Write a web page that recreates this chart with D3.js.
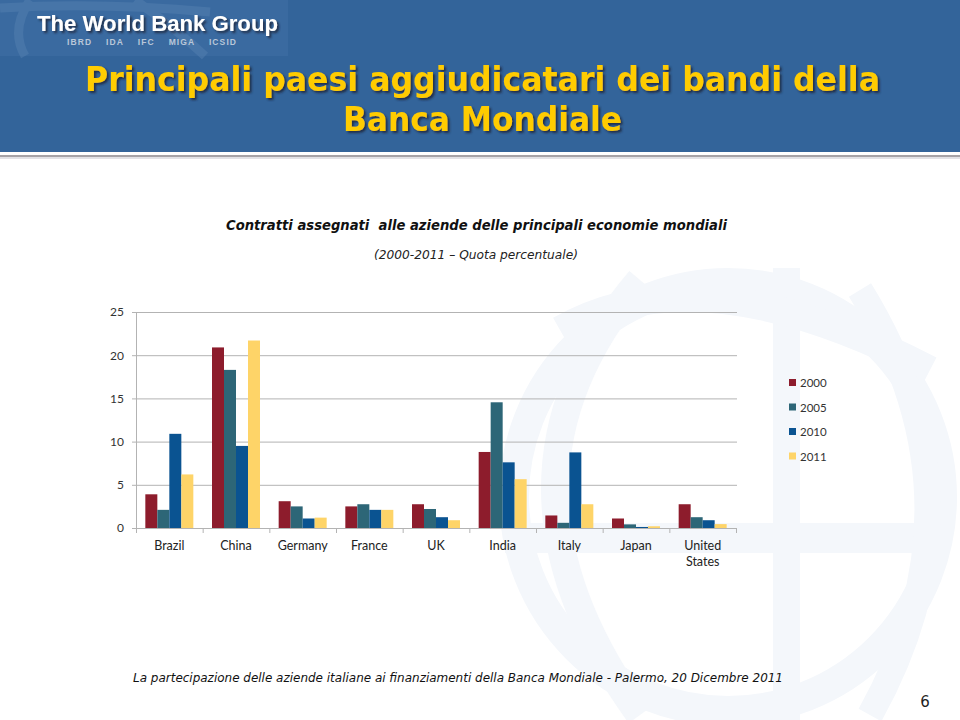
<!DOCTYPE html>
<html><head><meta charset="utf-8">
<script src="https://cdn.jsdelivr.net/npm/d3@7/dist/d3.min.js"></script>
<style>
html,body{margin:0;padding:0;background:#fff;}
svg{display:block;}
</style></head>
<body>
<svg id="c" width="960" height="720"></svg>
<script>
const categories = ["Brazil","China","Germany","France","UK","India","Italy","Japan","United States"];
const seriesNames = ["2000","2005","2010","2011"];
const values2000 = [3.9, 20.9, 3.1, 2.5, 2.75, 8.8, 1.45, 1.1, 2.75];
const values2005 = [2.1, 18.3, 2.5, 2.75, 2.2, 14.55, 0.6, 0.42, 1.25];
const values2010 = [10.9, 9.5, 1.1, 2.1, 1.25, 7.6, 8.75, 0.12, 0.9];
const values2011 = [6.2, 21.7, 1.2, 2.1, 0.9, 5.65, 2.75, 0.2, 0.45];
const yTicks = [0, 5, 10, 15, 20, 25];
const colors = ["#8d1c2c", "#2d6677", "#0a5391", "#fed468"];

const seriesValues = [values2000, values2005, values2010, values2011];
const svg = d3.select("#c");

// ---- background watermark globe ----
const wmColor = "#f4f7fb";
const wm = svg.append("g").attr("fill","none").attr("stroke",wmColor);
wm.append("circle").attr("cx",728).attr("cy",497).attr("r",214).attr("stroke-width",30);
wm.append("rect").attr("x",505).attr("y",523).attr("width",445).attr("height",30).attr("fill",wmColor).attr("stroke","none");
wm.append("rect").attr("x",773).attr("y",268).attr("width",27).attr("height",452).attr("fill",wmColor).attr("stroke","none");
wm.append("path").attr("d","M 560 330 Q 700 250 930 370").attr("stroke-width",28);
wm.append("path").attr("d","M 640 280 Q 470 480 640 715").attr("stroke-width",28);
wm.append("path").attr("d","M 860 290 Q 990 500 870 715").attr("stroke-width",26);

// ---- header ----
svg.append("rect").attr("x",0).attr("y",0).attr("width",960).attr("height",152).attr("fill","#33649a");
svg.append("rect").attr("x",0).attr("y",0).attr("width",288).attr("height",56).attr("fill","#3a6aa0");
const lw = svg.append("g").attr("stroke","#5580b0").attr("stroke-width",9).attr("fill","none").attr("opacity",0.5);
lw.append("path").attr("d","M 30 0 Q 10 30 25 56");
lw.append("path").attr("d","M 135 0 Q 175 28 205 56");
lw.append("path").attr("d","M 0 8 Q 100 2 210 12");
svg.append("rect").attr("x",0).attr("y",152).attr("width",960).attr("height",4).attr("fill","#ffffff");
svg.append("rect").attr("x",0).attr("y",155).attr("width",960).attr("height",2).attr("fill","#a5a2a6");
svg.append("rect").attr("x",0).attr("y",157).attr("width",960).attr("height",2).attr("fill","#e2e2e6");

const defs = svg.append("defs");
const f = defs.append("filter").attr("id","sh").attr("x","-5%").attr("y","-20%").attr("width","110%").attr("height","150%");
f.append("feDropShadow").attr("dx",2).attr("dy",2).attr("stdDeviation",1.2).attr("flood-color","#1a2a40").attr("flood-opacity",0.9);

svg.append("text").attr("x",37).attr("y",31).attr("font-family","Liberation Sans, Arial, sans-serif")
  .attr("font-weight","bold").attr("font-size",22).attr("fill","#ffffff").attr("filter","url(#sh)")
  .attr("textLength",241).attr("lengthAdjust","spacingAndGlyphs").text("The World Bank Group");
svg.append("text").attr("x",67).attr("y",44.5).attr("font-family","Liberation Sans, Arial, sans-serif")
  .attr("font-weight","bold").attr("font-size",8.5).attr("fill","#b9c7d9")
  .attr("textLength",169).attr("lengthAdjust","spacing").attr("xml:space","preserve")
  .text("IBRD    IDA    IFC    MIGA    ICSID");

const titleAttrs = sel => sel.attr("font-family","DejaVu Sans, Verdana, sans-serif").attr("font-weight","bold")
  .attr("font-size",34).attr("fill","#ffcc00").attr("filter","url(#sh)").attr("lengthAdjust","spacingAndGlyphs");
svg.append("text").attr("x",85).attr("y",91).call(titleAttrs).attr("textLength",795)
  .text("Principali paesi aggiudicatari dei bandi della");
svg.append("text").attr("x",343).attr("y",131).call(titleAttrs).attr("textLength",279)
  .text("Banca Mondiale");

// ---- chart titles ----
svg.append("text").attr("x",226).attr("y",230).attr("font-family","DejaVu Sans, Verdana, sans-serif")
  .attr("font-weight","bold").attr("font-style","italic").attr("font-size",13.5).attr("fill","#111")
  .attr("textLength",501).attr("lengthAdjust","spacingAndGlyphs").attr("xml:space","preserve")
  .text("Contratti assegnati  alle aziende delle principali economie mondiali");
svg.append("text").attr("x",374).attr("y",259).attr("font-family","DejaVu Sans, Verdana, sans-serif")
  .attr("font-style","italic").attr("font-size",12).attr("fill","#222")
  .attr("textLength",204).attr("lengthAdjust","spacingAndGlyphs")
  .text("(2000-2011 \u2013 Quota percentuale)");

// ---- chart ----
const x0 = d3.scaleBand().domain(categories).range([136, 736]).padding(0);
const x1 = d3.scaleBand().domain(seriesNames).range([x0.bandwidth()*0.14, x0.bandwidth()*0.86]).padding(0);
const y = d3.scaleLinear().domain([0, 25]).range([528, 312]);

const chart = svg.append("g");
// gridlines
chart.append("g").selectAll("line").data(yTicks.filter(d=>d>0)).join("line")
  .attr("x1",136).attr("x2",737).attr("y1",d=>y(d)+0.5).attr("y2",d=>y(d)+0.5)
  .attr("stroke","#b3b3b3").attr("stroke-width",1);

// bars
const groups = chart.append("g").selectAll("g").data(categories).join("g")
  .attr("transform", d => `translate(${x0(d)},0)`);
groups.selectAll("rect").data((d,i) => seriesNames.map((s,j) => ({s, v: seriesValues[j][i], j})))
  .join("rect")
  .attr("x", d => x1(d.s)).attr("width", x1.bandwidth())
  .attr("y", d => y(d.v)).attr("height", d => y(0) - y(d.v))
  .attr("fill", d => colors[d.j]);

// y axis
const yAxis = chart.append("g").attr("transform","translate(136,0)")
  .call(d3.axisLeft(y).tickValues(yTicks).tickSize(4).tickPadding(8));
yAxis.select(".domain").attr("stroke","#b3b3b3");
yAxis.selectAll(".tick line").attr("stroke","#b3b3b3");
yAxis.selectAll(".tick text").attr("font-family","Lato, Open Sans, sans-serif").attr("font-size",12).attr("fill","#333");

// x axis
const xAxis = chart.append("g").attr("transform",`translate(0,${y(0)})`)
  .call(d3.axisBottom(x0).tickSize(0).tickPadding(13));
xAxis.select(".domain").attr("stroke","#b3b3b3");
xAxis.selectAll(".tick text").attr("font-family","Lato, Open Sans, sans-serif").attr("font-size",12.5).attr("fill","#222")
  .each(function(d){
    const t = d3.select(this);
    const words = d.split(" ");
    if (words.length > 1) {
      t.text(null);
      words.forEach((w,i) => t.append("tspan").attr("x",0).attr("dy", i===0 ? "0.71em" : "1.3em").text(w));
      t.attr("dy", null);
    }
  });
chart.append("g").selectAll("line").data(d3.range(categories.length+1)).join("line")
  .attr("x1", i => 136 + i*x0.step() + 0.5).attr("x2", i => 136 + i*x0.step() + 0.5)
  .attr("y1", y(0)).attr("y2", y(0)+5).attr("stroke","#b3b3b3");

// legend
const legend = svg.append("g").selectAll("g").data(seriesNames).join("g")
  .attr("transform", (d,i) => `translate(789,${383 + i*24.5})`);
legend.append("rect").attr("x",0).attr("y",-4).attr("width",7).attr("height",7).attr("fill",(d,i)=>colors[i]);
legend.append("text").attr("x",11).attr("y",0).attr("dy","0.35em")
  .attr("font-family","Lato, Open Sans, sans-serif").attr("font-size",11.5).attr("fill","#333").text(d=>d);

// footer
svg.append("text").attr("x",133).attr("y",682).attr("font-family","DejaVu Sans, Verdana, sans-serif")
  .attr("font-style","italic").attr("font-size",12.5).attr("fill","#111")
  .attr("textLength",650).attr("lengthAdjust","spacingAndGlyphs")
  .text("La partecipazione delle aziende italiane ai finanziamenti della Banca Mondiale - Palermo, 20 Dicembre 2011");
svg.append("text").attr("x",925).attr("y",707).attr("text-anchor","middle")
  .attr("font-family","DejaVu Sans, Verdana, sans-serif").attr("font-size",15).attr("fill","#222").text("6");
</script>
</body></html>
